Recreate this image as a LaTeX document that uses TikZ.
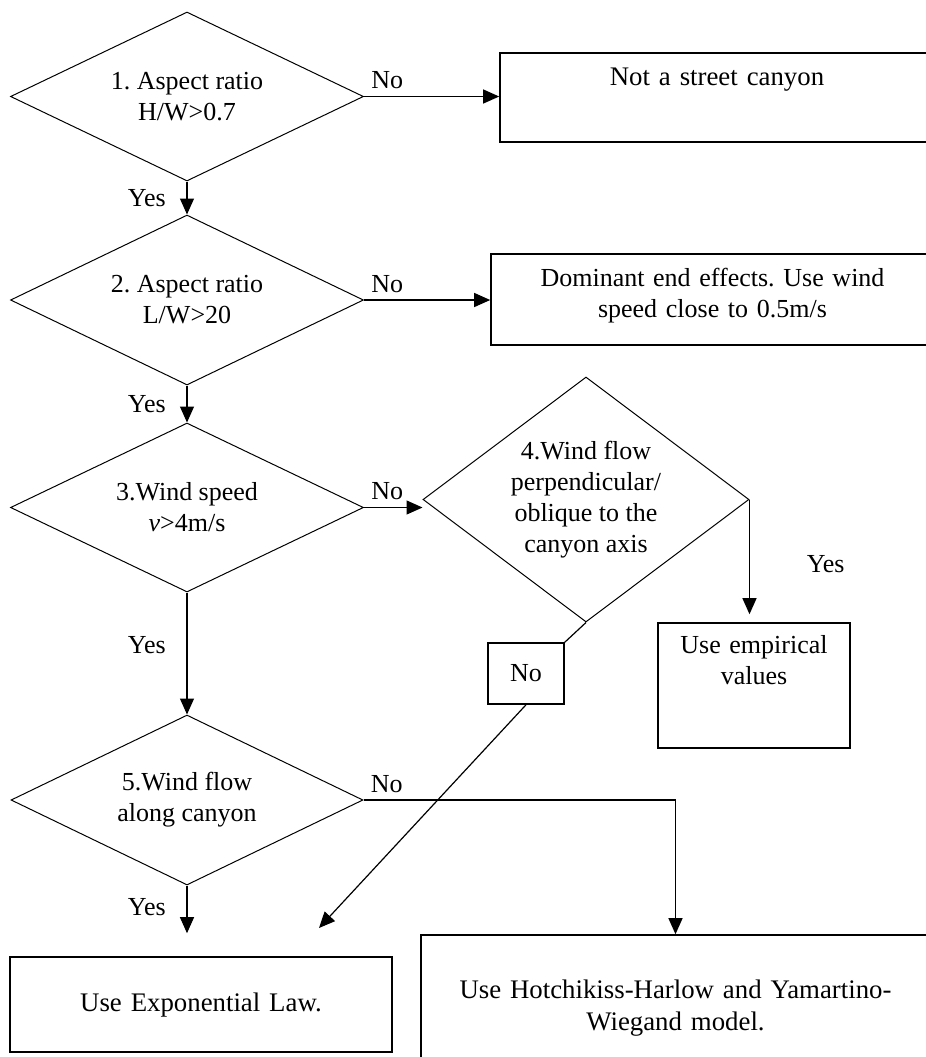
\documentclass[tikz,border=0pt]{standalone}
\usepackage{fontspec}
\setmainfont{Liberation Serif}
\frenchspacing
\usetikzlibrary{shapes.geometric, arrows.meta}
\tikzset{
  decision/.style={
    draw,
    diamond,
    aspect=2.08,
    inner sep=0pt,
    align=center,
    line width=0.5pt
  },
  result/.style={
    draw,
    rectangle,
    inner sep=0pt,
    align=center,
    line width=0.8pt
  },
  big/.style={
    font=\fontsize{13.4}{16}\selectfont
  },
  link/.style={
    line width=0.6pt
  },
  flow/.style={
    link,
    -{Triangle[length=8pt, width=7pt]}
  }
}

\begin{document}
\begin{tikzpicture}[x=0.5pt, y=-0.5pt, font=\fontsize{13}{15.5}\selectfont]
    \useasboundingbox (0,0) rectangle (926,1057);
    \clip (0,0) rectangle (926,1057);

    % decisions
    \node[decision, minimum width=176.5pt, minimum height=84.5pt] (d1) at (187,96.5) {1. Aspect ratio\\H/W>0.7};
    \node[decision, minimum width=176.5pt, minimum height=85pt] (d2) at (187,300) {2. Aspect ratio\\L/W>20};
    \node[decision, minimum width=176.5pt, minimum height=84.5pt] (d3) at (187,507.5) {3.Wind speed\\\textit{v}>4m/s};
    \node[decision, aspect=1.33, minimum width=163pt, minimum height=122.5pt] (d4) at (586,499.5) {4.Wind flow\\perpendicular/\\oblique to the\\canyon axis};
    \node[decision, minimum width=176pt, minimum height=85pt] (d5) at (187,800) {5.Wind flow\\along canyon};

    % outcomes
    \node[result, big, text width=217pt, text height=16pt, text depth=28.5pt] (nsc) at (717,97.5) {Not a street canyon};
    \node[result, text width=221.5pt, text height=16pt, text depth=29.5pt] (dom) at (712.5,299.5) {Dominant end effects. Use wind\\speed close to 0.5m/s};
    \node[result, text width=96pt, text height=15pt, text depth=47.5pt] (emp) at (754,685.5) {Use empirical\\values};
    \node[result, minimum width=38pt, minimum height=30.5pt] (nobox) at (526,673.5) {No};
    \node[result, big, text width=191pt, text height=27pt, text depth=20.5pt] (expo) at (201,1004.5) {Use Exponential Law.};
    \node[result, big, text width=254.5pt, text height=31.5pt, text depth=41.5pt] (hotch) at (675.5,1008) {Use Hotchikiss-Harlow and Yamartino-\\Wiegand model.};
    \coordinate (expin) at (319,928);

    \draw[flow] (d1.east) node[above right] (no1) {No} -- (d1.east -| nsc.west);
    \draw[flow] (d1.south) -- node[left=7pt] (yes1) {Yes} (d2.north);
    \draw[flow] (d2.east) node[above right] (no2) {No} -- (d2.east -| dom.west);
    \draw[flow] (d2.south) -- node[left=7pt] (yes2) {Yes} (d3.north);
    \draw[flow] (d3.east) node[above right] (no3) {No} -- (d3.east -| d4.west);
    \draw[flow] (d3.south) -- node[left=7pt, pos=0.43] (yes3) {Yes} (d5.north);
    \draw[flow, shorten >=4pt] (d4.east) -- node[right=25pt, pos=0.53] (yes4) {Yes} (d4.east |- emp.north);
    \draw[link] (d4.south) -- (nobox.north east);
    \draw[flow] (nobox.south) -- (expin);
    \draw[flow] (d5.east) node[above right] (no5) {No} -| (hotch.north);
    \draw[flow, shorten >=11.5pt] (d5.south) -- node[left=7pt, pos=0.3] (yes5) {Yes} (d5.south |- expo.north);
\end{tikzpicture}
\end{document}
